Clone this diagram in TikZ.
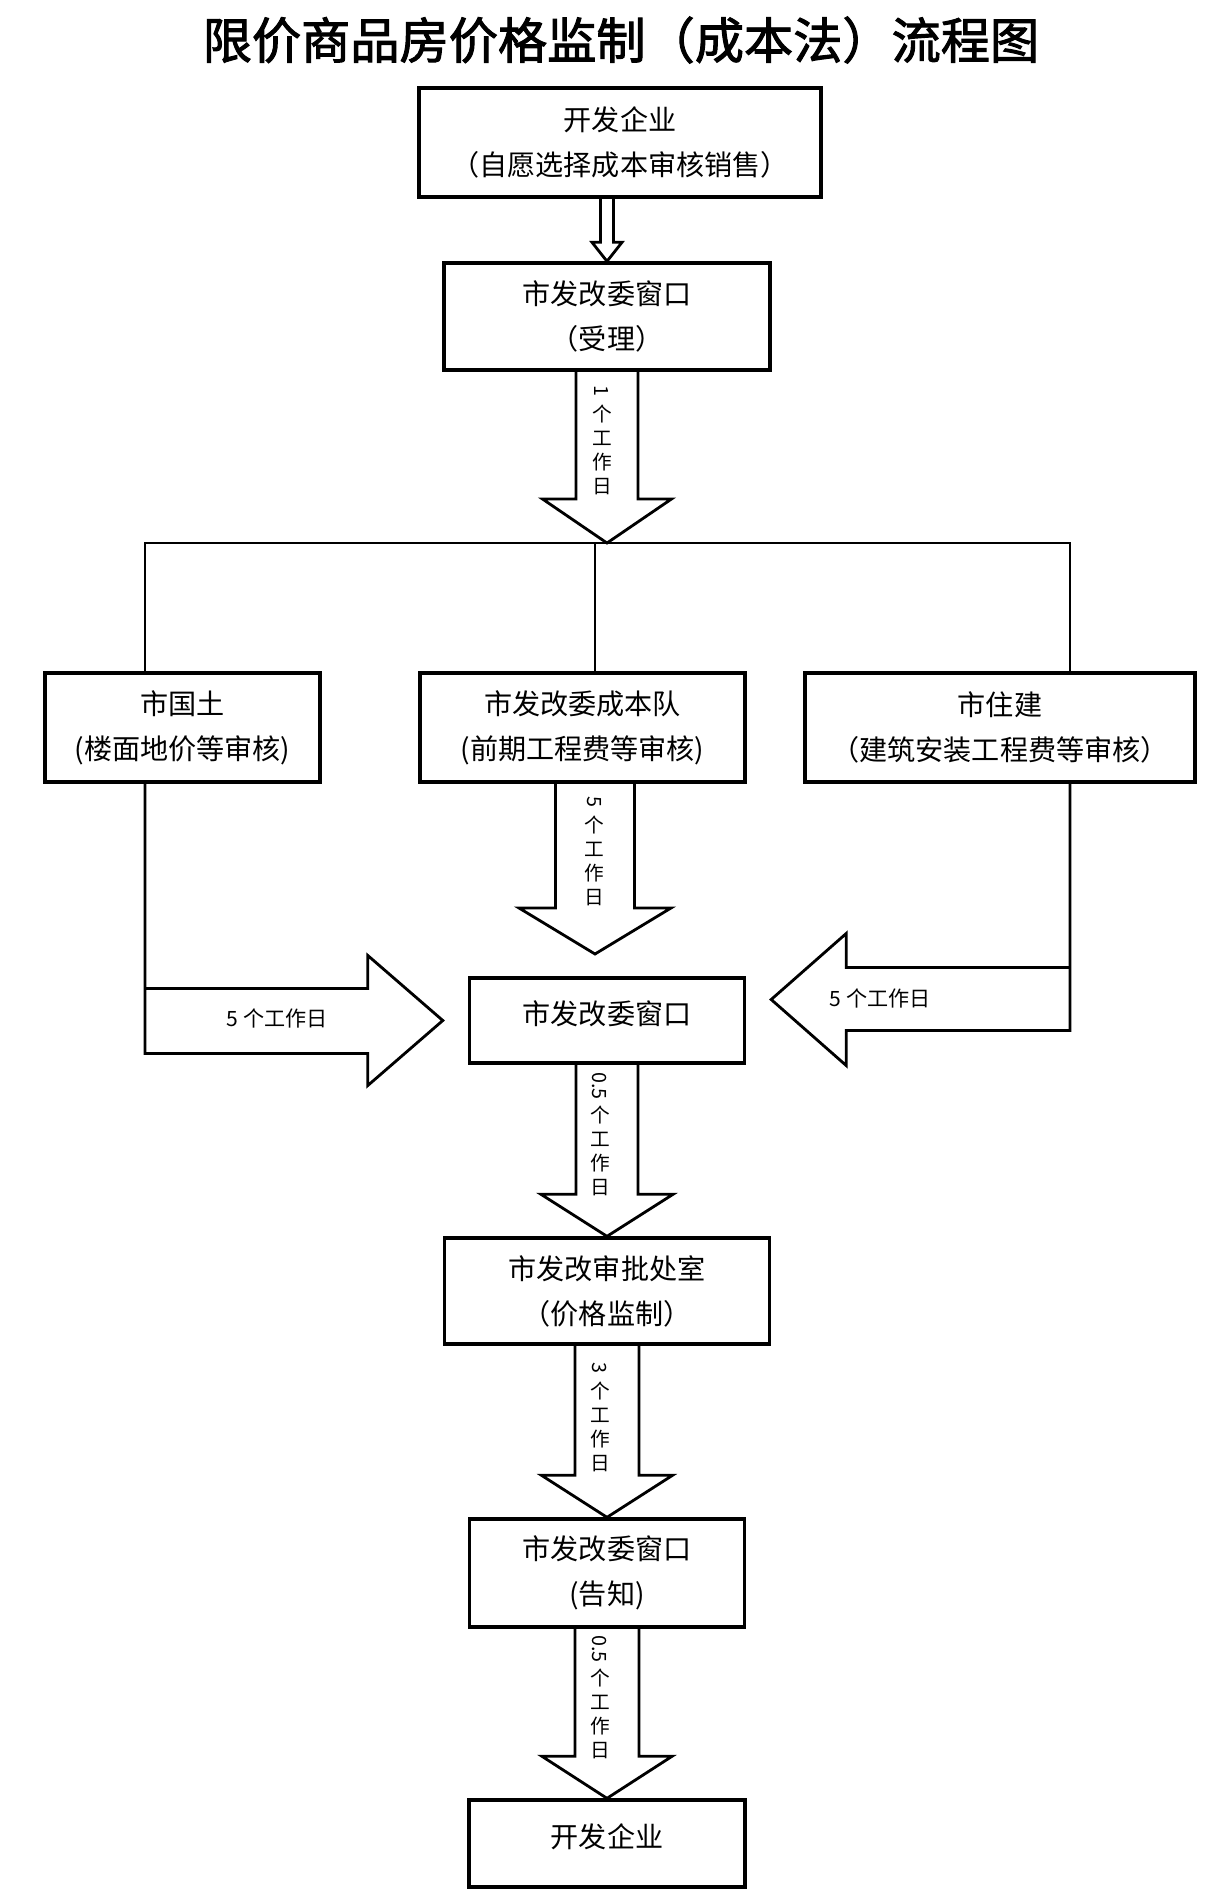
\documentclass[tikz,border=0pt]{standalone}
\usepackage{fontspec}
\setmainfont{Noto Sans CJK SC}[AutoFakeBold=2]
\usepackage{tikz}
\usetikzlibrary{positioning,calc}

\tikzset{
  box/.style={draw,line width=2.4pt,align=center,inner sep=0pt,font=\fontsize{20}{32}\selectfont},
  link/.style={line width=2pt},
  blockarr/.style={line width=2pt,line join=miter},
  vlabel/.style={align=center,inner sep=0pt,font=\fontsize{14}{17}\selectfont},
  hlabel/.style={inner sep=0pt,font=\fontsize{15}{18}\selectfont}
}
% hollow arrow pointing down: top, tip, shaft half width, head half width, head length
\newcommand{\blockdown}[5]{%
  \draw[blockarr] ($(#1)+(-#3,0)$) -- ($(#2)+(-#3,-#5)$) -- ($(#2)+(-#4,-#5)$) -- (#2)
    -- ($(#2)+(#4,-#5)$) -- ($(#2)+(#3,-#5)$) -- ($(#1)+(#3,0)$);}
% digit turned for vertical text
\newcommand{\vnum}[1]{\rotatebox[origin=c]{-90}{#1}}

\begin{document}
\begin{tikzpicture}[x=0.25mm,y=-0.25mm]
\useasboundingbox (0,0) rectangle (1221,1894);
% title
\node[font=\fontsize{35}{40}\selectfont\bfseries] (title) at (621,40) {限价商品房价格监制（成本法）流程图};
% boxes
\node[box,minimum width=100.5mm,minimum height=27.25mm] (dev) at (620,142.5) {开发企业\\（自愿选择成本审核销售）};
\node[box,minimum width=81.5mm,minimum height=26.75mm] (acc) at (607,316.5) {市发改委窗口\\（受理）};
\node[box,minimum width=68.75mm,minimum height=27.25mm] (land) at (182.5,727.5) {市国土\\(楼面地价等审核)};
\node[box,minimum width=81.25mm,minimum height=27.25mm] (cost) at (582.5,727.5) {市发改委成本队\\(前期工程费等审核)};
\node[box,minimum width=97.5mm,minimum height=27.25mm] (build) at (1000,727.5) {市住建\\（建筑安装工程费等审核）};
\node[box,minimum width=68.75mm,minimum height=21.25mm] (win) at (607,1020.5) {\raisebox{12pt}{市发改委窗口}};
\node[box,minimum width=81.25mm,minimum height=26.5mm] (appr) at (607,1291) {市发改审批处室\\（价格监制）};
\node[box,minimum width=68.75mm,minimum height=27mm] (notice) at (607,1573) {市发改委窗口\\(告知)};
\node[box,minimum width=69mm,minimum height=21.75mm] (devend) at (607,1843.5) {\raisebox{12pt}{开发企业}};
% junction points
\coordinate (split) at (607,543);
\coordinate (jL) at (145,543);
\coordinate (jM) at (595,543);
\coordinate (jR) at (1070,543);
\coordinate (d1) at (dev.south -| acc.north);
\coordinate (tipM) at (595,954);
\coordinate (c1) at (cost.south -| tipM);
\coordinate (tipL) at ($(win.west)+(-25,0)$);
\coordinate (tipR) at ($(win.east)+(25,-21)$);
\coordinate (eL) at (jL |- tipL);
\coordinate (eR) at (jR |- tipR);
% split lines
\draw[link] (land.north -| jL) -- (jL) -- (jR) -- (build.north -| jR);
\draw[link] (jM) -- (cost.north -| jM);
% down arrows
\blockdown{d1}{acc.north}{6.5}{15}{19}
\blockdown{acc.south}{split}{31}{64.5}{44}
\blockdown{c1}{tipM}{39.5}{76}{46}
\blockdown{win.south}{appr.north}{31}{66}{42}
\blockdown{appr.south}{notice.north}{32}{65.5}{42}
\blockdown{notice.south}{devend.north}{32}{65}{42}
% side arrows
\draw[blockarr] (land.south -| jL) -- ($(eL)+(0,33)$) -- ($(tipL)+(-75,33)$) -- ($(tipL)+(-75,65)$) -- (tipL)
  -- ($(tipL)+(-75,-65)$) -- ($(tipL)+(-75,-32)$) -- ($(eL)+(0,-32)$);
\draw[blockarr] (build.south -| jR) -- ($(eR)+(0,31)$) -- ($(tipR)+(75,31)$) -- ($(tipR)+(75,66)$) -- (tipR)
  -- ($(tipR)+(75,-66)$) -- ($(tipR)+(75,-32)$) -- ($(eR)+(0,-32)$);
% labels
\node[vlabel] (t1) at (602,440) {\vnum{1}\\个\\工\\作\\日};
\node[vlabel] (t2) at (594,851) {\vnum{5}\\个\\工\\作\\日};
\node[vlabel] (t3) at (600,1134) {\vnum{0.5}\\[4pt]个\\工\\作\\日};
\node[vlabel] (t4) at (600,1417) {\vnum{3}\\个\\工\\作\\日};
\node[vlabel] (t5) at (600,1697) {\vnum{0.5}\\[4pt]个\\工\\作\\日};
\node[hlabel] (tL) at (277,1018) {5 个工作日};
\node[hlabel] (tR) at (880,998) {5 个工作日};
\end{tikzpicture}
\end{document}
